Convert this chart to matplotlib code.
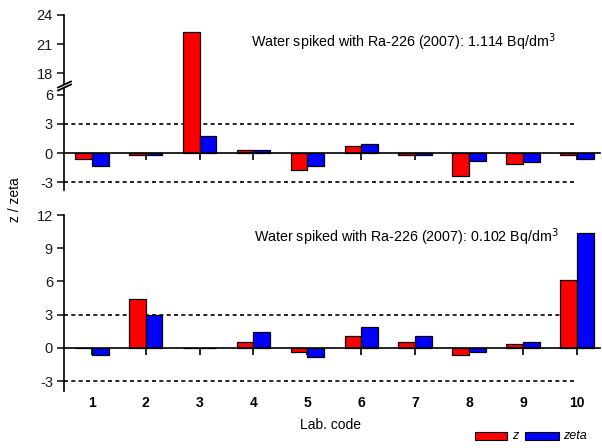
import numpy as np
import matplotlib
matplotlib.use("Agg")
import matplotlib.pyplot as plt
from matplotlib.patches import Rectangle
from matplotlib.lines import Line2D

plt.rcParams['font.family'] = ['Liberation Sans', 'DejaVu Sans']

labs = [1, 2, 3, 4, 5, 6, 7, 8, 9, 10]
z_top = [-0.6, -0.2, 22.2, 0.3, -1.7, 0.7, -0.2, -2.4, -1.1, -0.2]
zeta_top = [-1.3, -0.2, 1.8, 0.35, -1.3, 0.9, -0.2, -0.8, -0.9, -0.6]
z_bot = [0.0, 4.4, 0.0, 0.5, -0.4, 1.1, 0.5, -0.65, 0.33, 6.1]
zeta_bot = [-0.65, 3.0, 0.0, 1.4, -0.85, 1.9, 1.1, -0.4, 0.5, 10.4]
title_top = "Water spiked with Ra-226 (2007): 1.114 Bq/dm$^3$"
title_bot = "Water spiked with Ra-226 (2007): 0.102 Bq/dm$^3$"
yticks_top = [-3, 0, 3, 6, 18, 21, 24]
yticks_bot = [-3, 0, 3, 6, 9, 12]

W, H = 602, 448
fig = plt.figure(figsize=(W / 100, H / 100), dpi=100)

def fx(px):
    return px / W

def fy(py):
    return 1 - py / H

# broken scale for top panel
B, G = 6.9, 9.8

def fwd(y):
    y = np.asarray(y, dtype=float)
    return np.where(y <= B, y, np.where(y >= B + G, y - G, B))

def inv(t):
    t = np.asarray(t, dtype=float)
    return np.where(t <= B, t, t + G)

x = np.array(labs, dtype=float)
bw = 0.31
xl = (0.484, 10.43)

ax1 = fig.add_axes([fx(64), fy(190), fx(600) - fx(64), fy(15) - fy(190)])
ax2 = fig.add_axes([fx(64), fy(391), fx(600) - fx(64), fy(215) - fy(391)])

ax1.set_yscale('function', functions=(fwd, inv))
ax1.set_ylim(-3.8, 24)
ax2.set_ylim(-3.9, 12)

for ax, zz, ze, yt in [(ax1, z_top, zeta_top, yticks_top), (ax2, z_bot, zeta_bot, yticks_bot)]:
    ax.set_xlim(*xl)
    ax.bar(x - bw / 2, zz, bw, color='#ff0000', edgecolor='black', linewidth=0.9, zorder=3)
    ax.bar(x + bw / 2, ze, bw, color='#0000ff', edgecolor='black', linewidth=0.9, zorder=3)
    for v in (3, -3):
        ax.plot([xl[0], 10.0], [v, v], color='black', lw=1.2, ls=(0, (2.4, 2.0)), zorder=2)
    for s in ('top', 'right'):
        ax.spines[s].set_visible(False)
    ax.spines['bottom'].set_position(('data', 0))
    ax.spines['bottom'].set_linewidth(1.2)
    ax.spines['bottom'].set_zorder(4)
    ax.spines['left'].set_linewidth(1.2)
    ax.set_yticks(yt)
    ax.set_yticklabels([str(v) for v in yt])
    ax.set_xticks(x)
    ax.tick_params(axis='y', direction='out', length=5, width=1.2, labelsize=10.5, pad=3, colors='#1a1a1a')
    ax.tick_params(axis='x', direction='out', length=5, width=1.2)
    ax.patch.set_alpha(0)

ax1.set_xticklabels([])
ax2.set_xticklabels([str(v) for v in labs], fontweight='bold', fontsize=10)
ax2.tick_params(axis='x', pad=30)

# break marks on top left spine
bx, by = 64, 86
for d in (-1.5, 1.5):
    fig.add_artist(Line2D([fx(bx - 6), fx(bx + 7)], [fy(by + 3 + d), fy(by - 3 + d)],
                          color='black', lw=1.3))
fig.add_artist(Rectangle((fx(bx - 2), fy(by + 1)), fx(4), fy(by - 1) - fy(by + 1),
                         facecolor='white', edgecolor='none'))

fig.text(fx(251), fy(47), title_top, fontsize=10.3, va='baseline', ha='left')
fig.text(fx(254), fy(242), title_bot, fontsize=10.3, va='baseline', ha='left')
fig.text(fx(15), fy(200), "z / zeta", rotation=90, fontsize=10, ha='center', va='center')
fig.text(fx(330), fy(425), "Lab. code", fontsize=10, ha='center', va='center')

# legend
fig.add_artist(Rectangle((fx(475), fy(440)), fx(32), fy(432) - fy(440),
                         facecolor='#ff0000', edgecolor='black', lw=0.8))
fig.text(fx(512), fy(436), "z", fontsize=9, style='italic', va='center')
fig.add_artist(Rectangle((fx(525), fy(440)), fx(34), fy(432) - fy(440),
                         facecolor='#0000ff', edgecolor='black', lw=0.8))
fig.text(fx(563), fy(436), "zeta", fontsize=9, style='italic', va='center')

fig.savefig("out.png", dpi=100)
